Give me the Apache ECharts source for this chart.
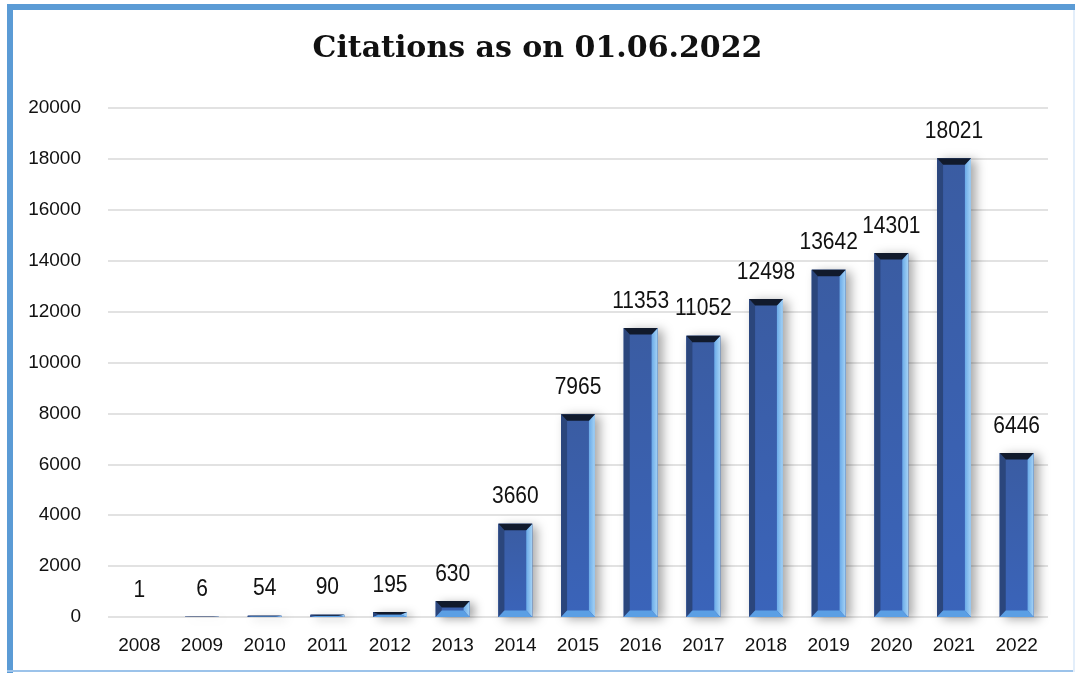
<!DOCTYPE html>
<html>
<head>
<meta charset="utf-8">
<script src="https://cdn.jsdelivr.net/npm/echarts@6/dist/echarts.min.js"></script>
<style>
html,body{margin:0;padding:0;background:#fff;}
#chart{width:1075px;height:673px;}
</style>
</head>
<body>
<div id="chart"></div>
<script>
const years = ['2008','2009','2010','2011','2012','2013','2014','2015','2016','2017','2018','2019','2020','2021','2022'];
const citations = [1, 6, 54, 90, 195, 630, 3660, 7965, 11353, 11052, 12498, 13642, 14301, 18021, 6446];
const yTicks = [0, 2000, 4000, 6000, 8000, 10000, 12000, 14000, 16000, 18000, 20000];

const chart = echarts.init(document.getElementById('chart'));

function renderBar(params, api) {
  const idx = api.value(0);
  const v = api.value(1);
  const top = api.coord([idx, v]);
  const base = api.coord([idx, 0]);
  const band = api.size([1, 0])[0];
  const w = band * 0.54;
  const x0 = top[0] - w / 2, x1 = top[0] + w / 2;
  const y0 = top[1], y1 = base[1];
  const h = y1 - y0;
  const b = Math.min(6.5, h / 2);
  const bx = Math.min(6, w / 2);
  const children = [];
  children.push({
    type: 'rect',
    shape: { x: x0, y: y0, width: w, height: h },
    style: { fill: '#2b4a86', shadowBlur: 10, shadowOffsetX: 5, shadowOffsetY: 2, shadowColor: 'rgba(0,0,0,0.35)' },
    z2: 0
  });
  children.push({
    type: 'rect',
    shape: { x: x0, y: y0, width: w, height: h },
    style: {
      fill: new echarts.graphic.LinearGradient(0, 0, 0, 1, [
        { offset: 0, color: '#3a5ca2' },
        { offset: 1, color: '#3a64ba' }
      ])
    },
    z2: 1
  });
  children.push({
    type: 'polygon',
    shape: { points: [[x0, y0], [x0 + bx, y0 + b], [x0 + bx, y1 - b], [x0, y1]] },
    style: { fill: '#2b467c' }, z2: 2
  });
  children.push({
    type: 'polygon',
    shape: { points: [[x1, y0], [x1, y1], [x1 - bx, y1 - b], [x1 - bx, y0 + b]] },
    style: {
      fill: new echarts.graphic.LinearGradient(0, 0, 1, 0, [
        { offset: 0, color: '#6aaae8' },
        { offset: 1, color: '#a5d3f6' }
      ])
    }, z2: 2
  });
  children.push({
    type: 'polygon',
    shape: { points: [[x0, y1], [x0 + bx, y1 - b], [x1 - bx, y1 - b], [x1, y1]] },
    style: { fill: '#5b9fe4' }, z2: 2
  });
  children.push({
    type: 'polygon',
    shape: { points: [[x0, y0], [x1, y0], [x1 - bx, y0 + b], [x0 + bx, y0 + b]] },
    style: { fill: '#111a2c' }, z2: 3
  });
  children.push({
    type: 'text',
    x: top[0], y: y0 - 15,
    scaleY: 1.15,
    style: {
      x: 0, y: 0,
      text: String(citations[idx]),
      fill: '#111',
      font: '21px "Liberation Sans", Arial, sans-serif',
      align: 'center', verticalAlign: 'bottom'
    },
    z2: 4
  });
  return { type: 'group', children: children };
}

chart.setOption({
  animation: false,
  backgroundColor: '#ffffff',
  title: {
    text: 'Citations as on 01.06.2022',
    left: 'center',
    top: 29,
    textStyle: { fontFamily: '"DejaVu Serif", "Liberation Serif", serif', fontWeight: 'bold', fontSize: 30, color: '#111' }
  },
  graphic: [
    { type: 'rect', shape: { x: 7, y: 4, width: 1070, height: 6 }, style: { fill: '#5b9bd5' }, z: 10 },
    { type: 'rect', shape: { x: 7, y: 4, width: 6, height: 669 }, style: { fill: '#5b9bd5' }, z: 10 },
    { type: 'rect', shape: { x: 7, y: 670, width: 1068, height: 2 }, style: { fill: '#9cc3ea' }, z: 10 },
    { type: 'rect', shape: { x: 1073, y: 10, width: 2, height: 662 }, style: { fill: '#e3eefa' }, z: 10 }
  ],
  grid: { left: 108, right: 27, top: 108, bottom: 56, containLabel: false },
  xAxis: {
    type: 'category',
    data: years,
    axisLine: { show: false },
    axisTick: { show: false },
    axisLabel: { color: '#111', fontSize: 19, fontFamily: '"Liberation Sans", Arial, sans-serif', margin: 19 }
  },
  yAxis: {
    type: 'value',
    min: yTicks[0],
    max: yTicks[yTicks.length - 1],
    interval: yTicks[1] - yTicks[0],
    axisLine: { show: false },
    axisTick: { show: false },
    axisLabel: { color: '#111', fontSize: 19, fontFamily: '"Liberation Sans", Arial, sans-serif', margin: 27, formatter: v => String(v) },
    splitLine: { lineStyle: { color: '#d9d9d9', width: 1.5 } }
  },
  series: [{
    type: 'custom',
    renderItem: renderBar,
    encode: { x: 0, y: 1 },
    data: citations.map((v, i) => [i, v]),
    clip: false
  }]
});
</script>
</body>
</html>
